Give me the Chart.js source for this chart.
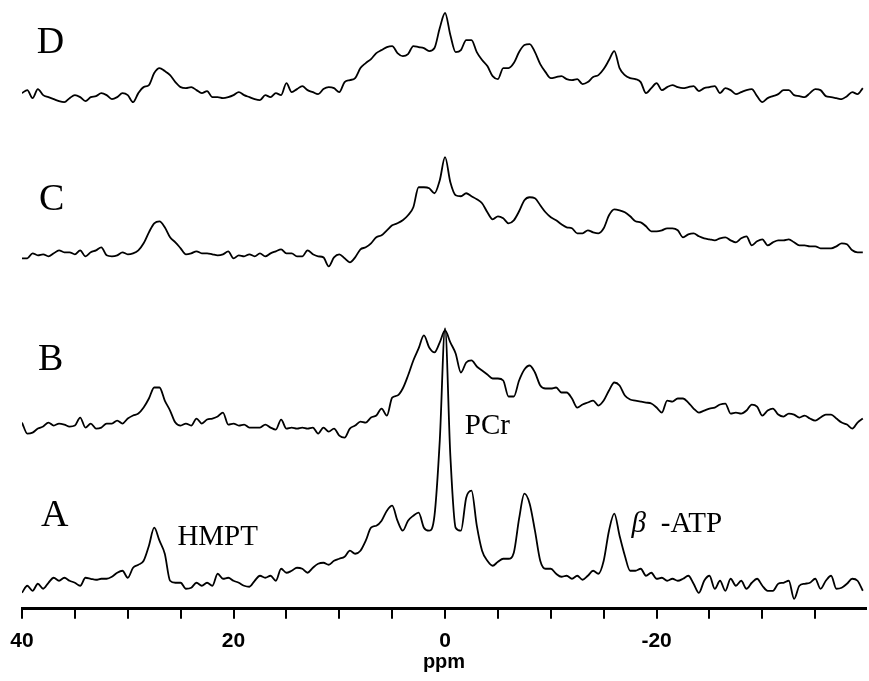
<!DOCTYPE html>
<html>
<head>
<meta charset="utf-8">
<script src="https://cdn.jsdelivr.net/npm/chart.js@4.4.1/dist/chart.umd.min.js"></script>
<style>
  html, body { margin: 0; padding: 0; background: #fff; }
  #wrap { width: 869px; height: 681px; position: relative; }
</style>
</head>
<body>
<div id="wrap"><canvas id="spectra"></canvas></div>
<script>
// chemical shift grid, 0.5 ppm steps from 40 down to -39.5
const PPM = Array.from({ length: 160 }, (_, i) => 40 - i * 0.5);

// intensities, arbitrary units, one row = 10 ppm
const specA = [
  -7, 0, -5, 2, -3, 3, 8, 5, 8, 5, 3, 0, 8, 7, 6, 7, 7, 9, 13, 15,
  8, 18, 21, 25, 40, 58, 45, 32, 5, 3, 3, -3, -2, 3, 0, 3, 0, 12, 7, 8,
  5, 3, 0, -1, 5, 10, 8, 10, 5, 17, 13, 15, 18, 17, 13, 18, 22, 23, 21, 25,
  27, 29, 35, 32, 35, 45, 58, 60, 65, 75, 80, 65, 55, 65, 70, 73, 58, 55, 70, 145,
  257, 130, 58, 55, 88, 95, 60, 35, 25, 20, 24, 27, 27, 33, 67, 92, 82, 55, 25, 17,
  17, 12, 9, 10, 7, 10, 6, 10, 15, 12, 25, 55, 72, 50, 30, 15, 15, 17, 10, 13,
  7, 8, 5, 7, 5, 7, 10, 2, -7, 5, 10, -3, 5, -5, 7, 0, 5, -3, 3, 7,
  0, -5, -5, 2, 3, 5, -13, 0, 2, 3, 7, -3, 5, 10, -3, -2, 2, 7, 5, -5
];
const specB = [
  8, -3, -2, 2, 4, 8, 5, 7, 6, 4, 5, 13, 3, 7, 2, 3, 7, 7, 10, 7,
  12, 15, 17, 23, 32, 43, 43, 30, 20, 8, 5, 7, 5, 12, 7, 11, 12, 14, 18, 6,
  7, 5, 6, 3, 3, 3, 6, 3, 1, 11, 2, 3, 2, 3, 2, 3, -3, 3, -1, 2,
  -5, -7, 2, 5, 9, 8, 13, 15, 22, 15, 33, 35, 42, 55, 70, 82, 95, 83, 78, 88,
  100, 88, 77, 58, 68, 70, 64, 60, 56, 52, 52, 50, 34, 34, 50, 61, 65, 58, 45, 42,
  42, 43, 38, 38, 32, 23, 26, 28, 30, 25, 30, 40, 48, 45, 35, 31, 30, 29, 28, 27,
  23, 18, 30, 29, 32, 32, 28, 22, 18, 20, 22, 23, 26, 27, 17, 18, 17, 20, 26, 24,
  15, 20, 22, 16, 14, 17, 16, 13, 15, 12, 10, 13, 16, 16, 12, 8, 6, 2, 8, 12
];
const specC = [
  -3, -3, 2, 0, 1, -1, 2, 5, 3, 3, 1, 5, -1, 3, 5, 8, 0, -1, 0, 3,
  1, 2, 5, 12, 23, 32, 34, 28, 18, 13, 7, 1, 2, 4, 2, 2, 1, 0, 1, 4,
  -3, 0, -1, 1, -1, 2, -1, 2, 4, 6, 2, 2, -1, -1, 5, 1, -1, -2, -11, -2,
  1, -3, -7, -2, 6, 8, 12, 18, 20, 25, 30, 32, 35, 40, 48, 68, 68, 67, 62, 75,
  98, 73, 60, 59, 62, 59, 56, 52, 43, 36, 39, 37, 32, 35, 44, 55, 58, 57, 50, 43,
  38, 35, 31, 28, 27, 22, 22, 25, 23, 22, 27, 40, 46, 45, 43, 39, 34, 33, 29, 24,
  24, 25, 27, 27, 25, 18, 21, 22, 19, 17, 16, 15, 17, 18, 15, 13, 17, 19, 10, 14,
  16, 10, 13, 15, 15, 16, 13, 10, 10, 9, 9, 7, 7, 7, 9, 12, 11, 5, 3, 3
];
const specD = [
  4, 7, -1, 8, 2, 0, -2, -4, -5, -1, 2, 0, -4, 0, 1, 4, 2, -2, 0, 4,
  2, -5, 4, 10, 12, 24, 29, 26, 22, 15, 10, 9, 10, 7, 4, 6, 0, 0, -1, 0,
  2, 5, 2, 0, -2, -3, 2, 0, 4, 2, 14, 5, 8, 11, 7, 5, 3, 8, 10, 9,
  5, 15, 17, 19, 29, 34, 38, 44, 47, 50, 51, 44, 41, 43, 51, 50, 49, 46, 49, 69,
  84, 62, 45, 47, 57, 57, 45, 37, 31, 21, 18, 29, 29, 34, 45, 52, 53, 45, 33, 25,
  19, 20, 21, 18, 17, 18, 13, 15, 20, 22, 28, 37, 46, 29, 22, 19, 18, 15, 4, 9,
  14, 7, 10, 12, 10, 9, 10, 11, 6, 9, 10, 11, 4, 9, 7, 3, 5, 7, 8, 1,
  -5, -1, 1, 3, 7, 7, 2, 1, 0, 4, 8, 7, 1, 0, -1, -2, 1, 5, 3, 9
];

const TRACE_NAMES = ["A", "B", "C", "D"];
const TICK_VALUES = [40, 35, 30, 25, 20, 15, 10, 5, 0, -5, -10, -15, -20, -25, -30, -35];
const TICK_LABELS = [40, 20, 0, -20];
const PEAK_LABELS = ["HMPT", "PCr", "β", "-ATP"];

// vertical stacking of the traces (same units as the intensities)
const offsets = { A: 23, B: 178, C: 353, D: 511 };
const spectra = { A: specA, B: specB, C: specC, D: specD };

const datasets = TRACE_NAMES.map((name) => ({
  label: name,
  data: PPM.map((x, i) => ({ x: x, y: spectra[name][i] + offsets[name] })),
  borderColor: "#000",
  borderWidth: 1.8,
  pointRadius: 0,
  fill: false,
  cubicInterpolationMode: "monotone",
}));

// text placed in data coordinates
const textMarks = [
  { text: TRACE_NAMES[3], x: 37.3, y: 565, font: '38px "Liberation Serif"' },
  { text: TRACE_NAMES[2], x: 37.2, y: 408, font: '38px "Liberation Serif"' },
  { text: TRACE_NAMES[1], x: 37.3, y: 248, font: '38px "Liberation Serif"' },
  { text: TRACE_NAMES[0], x: 36.9, y: 93, font: '38px "Liberation Serif"' },
  { text: PEAK_LABELS[0], x: 21.5, y: 71, font: '29px "Liberation Serif"' },
  { text: PEAK_LABELS[1], x: -4.0, y: 182, font: '29px "Liberation Serif"' },
  { text: PEAK_LABELS[2], x: -18.3, y: 84, font: 'italic 29px "Liberation Serif"' },
  { text: PEAK_LABELS[3], x: -23.3, y: 84, font: '29px "Liberation Serif"' },
];

const textPlugin = {
  id: "textMarks",
  afterDatasetsDraw(chart) {
    const ctx = chart.ctx;
    const xs = chart.scales.x;
    const ys = chart.scales.y;
    ctx.save();
    ctx.fillStyle = "#000";
    ctx.textAlign = "center";
    ctx.textBaseline = "middle";
    textMarks.forEach((m) => {
      ctx.font = m.font;
      ctx.fillText(m.text, xs.getPixelForValue(m.x), ys.getPixelForValue(m.y));
    });
    ctx.restore();
  },
};

new Chart(document.getElementById("spectra"), {
  type: "line",
  data: { datasets: datasets },
  options: {
    responsive: true,
    maintainAspectRatio: false,
    animation: false,
    layout: { padding: { left: 22, right: 3, top: 0, bottom: 9 } },
    plugins: { legend: { display: false }, tooltip: { enabled: false } },
    scales: {
      x: {
        type: "linear",
        reverse: true,
        min: -39.8,
        max: 40,
        afterBuildTicks: (scale) => {
          scale.ticks = TICK_VALUES.map((v) => ({ value: v }));
        },
        ticks: {
          autoSkip: false,
          maxRotation: 0,
          padding: 10,
          color: "#000",
          font: { family: '"Liberation Sans"', size: 21, weight: "bold" },
          callback: (v) => (TICK_LABELS.includes(v) ? String(v) : ""),
        },
        grid: {
          drawOnChartArea: false,
          drawTicks: true,
          tickLength: 10,
          color: "#000",
          lineWidth: 2,
        },
        border: { display: true, color: "#000", width: 3 },
        title: {
          display: true,
          text: "ppm",
          color: "#000",
          padding: { top: -12, bottom: 0 },
          font: { family: '"Liberation Sans"', size: 20, weight: "bold", lineHeight: 1 },
        },
      },
      y: { display: false, min: 0, max: 608 },
    },
  },
  plugins: [textPlugin],
});
</script>
</body>
</html>
